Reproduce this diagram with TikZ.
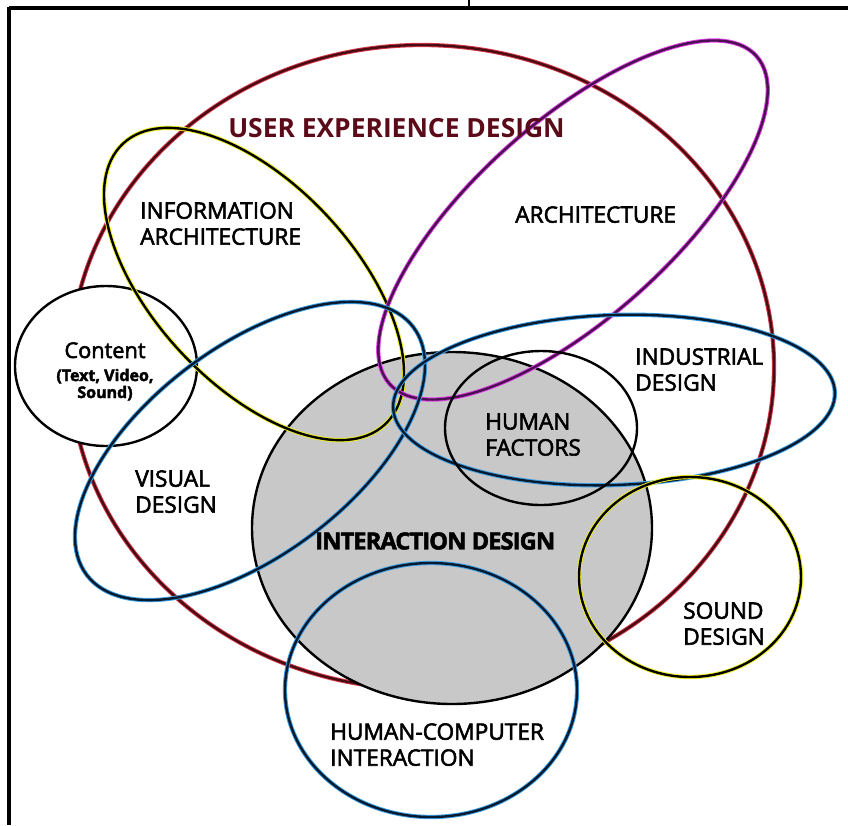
\documentclass[tikz,border=0pt]{standalone}
\usepackage{fontspec}
\setmainfont{Open Sans}
\newfontfamily\lblfont{Open Sans}[FakeBold=2.5]
\newfontfamily\heavyfont{Open Sans Bold}[FakeBold=2,LetterSpace=-4]
\usepackage{tikz}

\definecolor{uxline}{HTML}{4A0C14}
\definecolor{uxhalo}{HTML}{D83848}
\definecolor{uxtext}{HTML}{5A0A18}
\definecolor{yelhalo}{HTML}{EEEE20}
\definecolor{purline}{HTML}{4A1050}
\definecolor{purhalo}{HTML}{E040E8}
\definecolor{navyline}{HTML}{0A1A2E}
\definecolor{bluhalo}{HTML}{3AA0E8}
\definecolor{idfill}{HTML}{C8C8C8}

\begin{document}
\begin{tikzpicture}[x=0.75pt,y=0.75pt,yscale=-1,xscale=1,
    halo/.style={line width=3.2pt},
    core/.style={line width=1.8pt},
    lbl/.style={anchor=north west,inner sep=0pt,align=left,font=\lblfont\fontsize{17}{19.5}\selectfont}]
    \useasboundingbox (0,0) rectangle (848,825);

    %Frame
    \draw [line width=3pt] (9,8) -- (848,8) ;
    \draw [line width=3pt] (9,6.5) -- (9,825) ;
    \draw [line width=0.8pt] (469,0) -- (469,8) ;

    %Shape: Ellipse [id:ux]
    \draw [halo,uxhalo] (422,367) ellipse (352 and 322) ;
    \draw [core,uxline] (422,367) ellipse (352 and 322) ;
    %Shape: Ellipse [id:content]
    \draw [core,fill=white] (106,366) ellipse (91 and 80) ;
    %Shape: Ellipse [id:interaction]
    \draw [core,fill=idfill] (452,528) ellipse (200 and 176) ;
    %Shape: Ellipse [id:infoarch]
    \draw [halo,yelhalo,rotate around={47:(254,284)}] (254,284) ellipse (192 and 100) ;
    \draw [core,rotate around={47:(254,284)}] (254,284) ellipse (192 and 100) ;
    %Shape: Ellipse [id:arch]
    \draw [halo,purhalo,rotate around={-41.8:(573,220)}] (573,220) ellipse (246 and 98) ;
    \draw [core,purline,rotate around={-41.8:(573,220)}] (573,220) ellipse (246 and 98) ;
    %Shape: Ellipse [id:visual]
    \draw [halo,bluhalo,rotate around={-37.2:(250,451)}] (250,451) ellipse (205 and 104) ;
    \draw [core,navyline,rotate around={-37.2:(250,451)}] (250,451) ellipse (205 and 104) ;
    %Shape: Ellipse [id:industrial]
    \draw [halo,bluhalo,rotate around={-2:(614,400)}] (614,400) ellipse (221 and 85) ;
    \draw [core,navyline,rotate around={-2:(614,400)}] (614,400) ellipse (221 and 85) ;
    %Shape: Ellipse [id:humanfac]
    \draw [core] (541,428) ellipse (96 and 77) ;
    %Shape: Ellipse [id:sound]
    \draw [halo,yelhalo] (690,577) ellipse (111 and 100) ;
    \draw [core] (690,577) ellipse (111 and 100) ;
    %Shape: Ellipse [id:hci]
    \draw [halo,bluhalo] (431,690) ellipse (146 and 127) ;
    \draw [core,navyline] (431,690) ellipse (146 and 127) ;

    % Text Node
    \draw (228,118) node (uxtxt) [lbl,text=uxtext,font=\fontsize{19.8}{22}\selectfont\bfseries] {USER EXPERIENCE DESIGN};
    % Text Node
    \draw (140,202) node (iatxt) [lbl] {INFORMATION\\ARCHITECTURE};
    % Text Node
    \draw (515,206) node (archtxt) [lbl] {ARCHITECTURE};
    % Text Node
    \draw (105,342) node (contxt) [anchor=north,inner sep=0pt,align=center,font=\lblfont\fontsize{12}{12.75}\selectfont] {{\fontsize{16.3}{17}\selectfont Content}\\[4.5pt]\bfseries(Text, Video,\\\bfseries Sound)};
    % Text Node
    \draw (635,348) node (indtxt) [lbl] {INDUSTRIAL\\DESIGN};
    % Text Node
    \draw (485,413) node (hftxt) [lbl] {HUMAN\\FACTORS};
    % Text Node
    \draw (135,470) node (vistxt) [lbl] {VISUAL\\DESIGN};
    % Text Node
    \draw (315,532) node (idtxt) [lbl,font=\heavyfont\fontsize{17.8}{20}\selectfont] {INTERACTION DESIGN};
    % Text Node
    \draw (683,602) node (sdtxt) [lbl] {SOUND\\DESIGN};
    % Text Node
    \draw (330,723) node (hcitxt) [lbl] {HUMAN-COMPUTER\\INTERACTION};

\end{tikzpicture}
\end{document}
